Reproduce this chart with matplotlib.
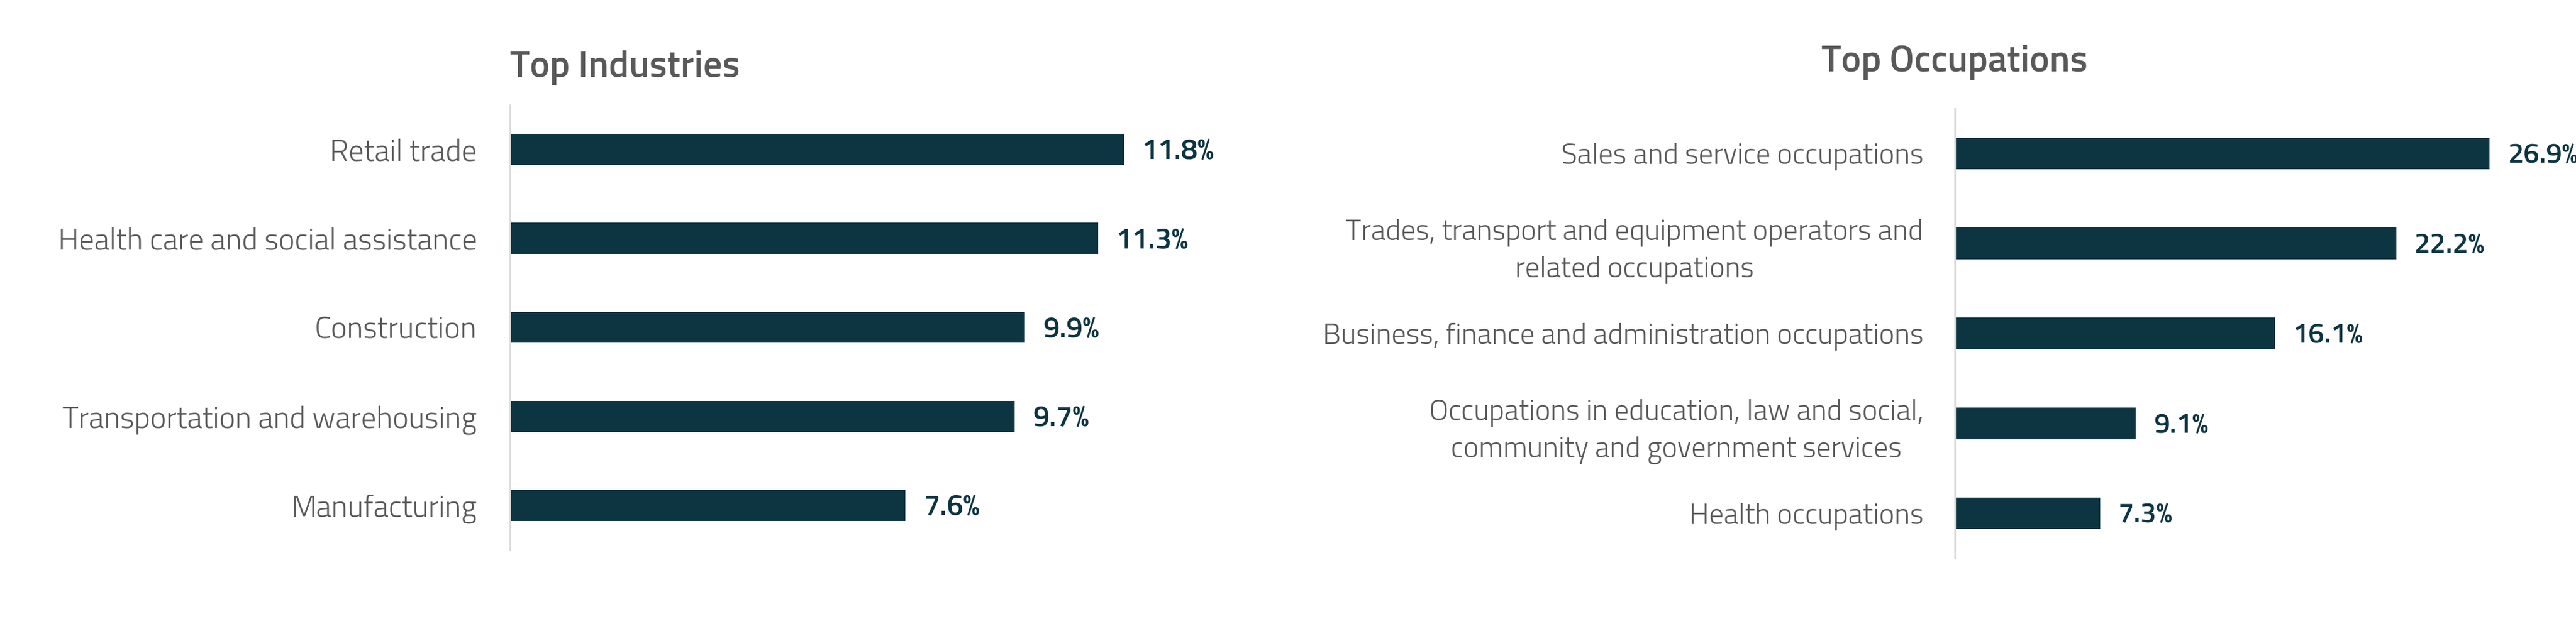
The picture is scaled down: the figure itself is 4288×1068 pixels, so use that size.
import matplotlib
matplotlib.use("Agg")
import matplotlib.pyplot as plt

# ---- data ----
ind_labels = ["Retail trade", "Health care and social assistance", "Construction",
              "Transportation and warehousing", "Manufacturing"]
ind_values = [11.8, 11.3, 9.9, 9.7, 7.6]

occ_labels = ["Sales and service occupations",
              "Trades, transport and equipment operators and\nrelated occupations",
              "Business, finance and administration occupations",
              "Occupations in education, law and social,\ncommunity and government services",
              "Health occupations"]
occ_values = [26.9, 22.2, 16.1, 9.1, 7.3]

titles = ["Top Industries", "Top Occupations"]

FONT = ["Titillium Web", "Roboto Condensed", "DejaVu Sans"]
BAR = "#0c3441"
GRAY = "#595959"
W, H = 4288, 1068
fig = plt.figure(figsize=(W / 100, H / 100), dpi=100)

def px(x0, y0, x1, y1):
    return [x0 / W, 1 - y1 / H, (x1 - x0) / W, (y1 - y0) / H]

ax1 = fig.add_axes(px(849, 175, 2100, 916))
ax2 = fig.add_axes(px(3254, 181, 4288, 930))

def draw(ax, labels, values, xmax, pad_pt, lab_fs, val_fs):
    y = list(range(len(labels)))
    ax.barh(y, values, height=0.35, color=BAR)
    ax.set_xlim(0, xmax)
    ax.set_ylim(4.5, -0.5)
    for s in ["top", "right", "bottom"]:
        ax.spines[s].set_visible(False)
    ax.spines["left"].set_color("#d9d9d9")
    ax.spines["left"].set_linewidth(2)
    ax.set_xticks([])
    ax.set_yticks(y)
    ax.set_yticklabels(labels, fontsize=lab_fs, color=GRAY, family=FONT, fontweight=300,
                       multialignment="center", linespacing=1.45)
    ax.tick_params(axis="y", length=0, pad=pad_pt)
    for yi, v in zip(y, values):
        ax.annotate(f"{v}%", (v, yi), xytext=(30, -5), textcoords="offset pixels",
                    ha="left", va="center", fontsize=val_fs, fontweight=600, color=BAR,
                    family=FONT)

draw(ax1, ind_labels, ind_values, 1251 / 86.6, 39.6, 36.5, 35)
draw(ax2, occ_labels, occ_values, 1034 / 33.1, 37.4, 35, 34)

fig.text(849 / W, 1 - 113 / H, titles[0], ha="left", va="center", fontsize=45,
         fontweight=600, color=GRAY, family=FONT)
fig.text(3254 / W, 1 - 104 / H, titles[1], ha="center", va="center", fontsize=45,
         fontweight=600, color=GRAY, family=FONT)

fig.savefig("out.png", dpi=100)
